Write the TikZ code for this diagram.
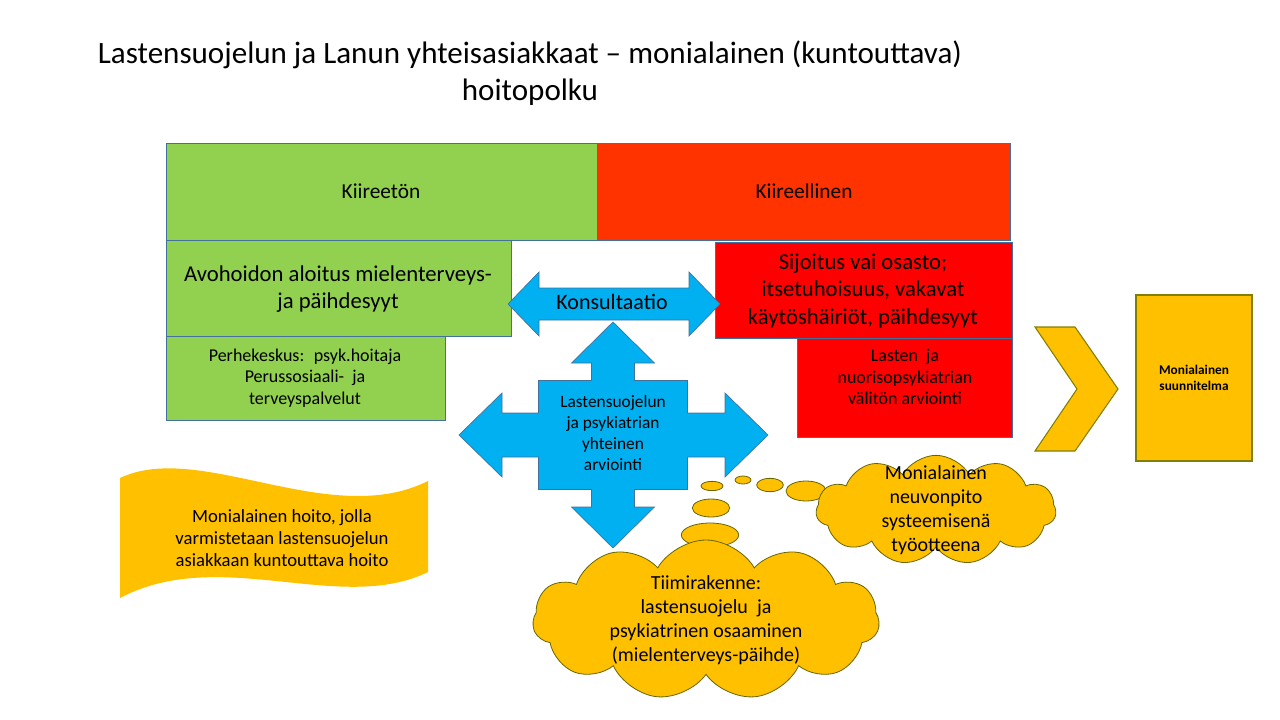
\documentclass[tikz,border=0pt]{standalone}
\usepackage{fontspec}
\setmainfont{Carlito}
\usetikzlibrary{shapes.symbols,shapes.geometric}
\definecolor{vihrea}{HTML}{92D050}
\definecolor{oranssi}{HTML}{FF3300}
\definecolor{puna}{HTML}{FF0000}
\definecolor{sini}{HTML}{00B0F0}
\definecolor{kulta}{HTML}{FFC000}
\definecolor{reuna}{HTML}{41719C}
\definecolor{oliivi}{HTML}{7F7F00}
\newcommand{\fs}[1]{\fontsize{#1pt}{\dimexpr#1pt*6/5\relax}\selectfont}
\tikzset{
  box/.style={draw=reuna, line width=0.6pt, align=center, inner sep=0pt},
  nuoli/.style={fill=sini, draw=reuna, line width=0.5pt},
  pilvi/.style={cloud, cloud puffs=11, cloud puff arc=120, aspect=2, fill=kulta, draw=oliivi!80!black, line width=0.6pt, inner sep=0pt},
  kupla/.style={ellipse, fill=kulta, draw=oliivi!80!black, line width=0.6pt, inner sep=0pt},
}
\begin{document}
\begin{tikzpicture}[x=0.75pt, y=-0.75pt]
  \useasboundingbox (0,0) rectangle (1280,720);
  % otsikko
  \node[align=center, font=\fs{23.3}] (otsikko) at (530,73) {Lastensuojelun ja Lanun yhteisasiakkaat -- monialainen (kuntouttava)\\hoitopolku};

  % ylarivi
  \path[box, fill=vihrea] (166,143) rectangle (597,240);
  \node[font=\fs{16}] (kiireeton) at (381,191) {Kiireetön};
  \path[box, fill=oranssi] (597,143) rectangle (1010,240);
  \node[font=\fs{16}] (kiireellinen) at (804,191) {Kiireellinen};

  % vasen puoli
  \path[box, fill=vihrea] (166,240) rectangle (511,336);
  \node[align=center, font=\fs{17}] (avohoito) at (338,289) {Avohoidon aloitus mielenterveys-\\ja päihdesyyt};
  \path[box, fill=vihrea] (166,336) rectangle (445,420);
  \node[align=center, font=\fs{13.5}] (perhekeskus) at (305,378) {Perhekeskus: \ psyk.hoitaja\\Perussosiaali- \ ja\\terveyspalvelut};

  % oikea puoli
  \path[box, fill=puna] (715,242) rectangle (1012,338);
  \node[align=center, font=\fs{17}] (sijoitus) at (863,291) {Sijoitus vai osasto;\\itsetuhoisuus, vakavat\\käytöshäiriöt, päihdesyyt};
  \path[box, fill=puna] (797,338) rectangle (1012,437);
  \node[align=center, font=\fs{13.5}] (arvio) at (905,377) {Lasten \ ja\\nuorisopsykiatrian\\välitön arviointi};

  % konsultaatio-nuoli
  \draw[nuoli] (508,304) -- (539,272) -- (539,288) -- (689,288) -- (689,272) -- (720,304)
    -- (689,336) -- (689,320) -- (539,320) -- (539,336) -- cycle;
  \node[font=\fs{16.5}] (konsultaatio) at (612,302) {Konsultaatio};

  % nelisuuntainen nuoli
  \begin{scope}[shift={(613,435)}]
    \draw[nuoli] (0,-113) -- (41.5,-72) -- (21.5,-72) -- (21.5,-54.5) -- (74.5,-54.5)
      -- (74.5,-22) -- (112,-22) -- (112,-42) -- (155,0) -- (112,42) -- (112,22)
      -- (74.5,22) -- (74.5,54.5)
      -- (21.5,54.5) -- (21.5,72) -- (41.5,72) -- (0,113) -- (-41.5,72) -- (-21.5,72)
      -- (-21.5,54.5) -- (-74.5,54.5) -- (-74.5,22) -- (-111,22) -- (-111,42) -- (-154,0)
      -- (-111,-42) -- (-111,-22) -- (-74.5,-22) -- (-74.5,-54.5) -- (-21.5,-54.5)
      -- (-21.5,-72) -- (-41.5,-72) -- cycle;
  \end{scope}
  \node[align=center, font=\fs{13}] (yhteinen) at (613,433) {Lastensuojelun\\ja psykiatrian\\yhteinen\\arviointi};

  % ajatuskuplat
  \node[kupla, minimum width=16.5pt, minimum height=7pt] (k1) at (712,486) {};
  \node[kupla, minimum width=12pt, minimum height=6pt] (k2) at (743,480) {};
  \node[kupla, minimum width=20pt, minimum height=10pt] (k3) at (770,485) {};
  \node[kupla, minimum width=30pt, minimum height=15pt] (k4) at (806,491) {};
  \node[kupla, minimum width=28pt, minimum height=13.5pt] (k5) at (711,508) {};
  \node[kupla, minimum width=43pt, minimum height=18pt] (k6) at (710,535) {};

  % pilvet
  \node[pilvi, minimum width=180pt, minimum height=82pt] (neuvonpito) at (936,510) {};
  \node[align=center, font=\fs{15}] at (neuvonpito) {Monialainen\\neuvonpito\\systeemisenä\\työotteena};
  \node[pilvi, minimum width=260pt, minimum height=120pt] (tiimi) at (706,620) {};
  \node[align=center, font=\fs{15}] at (tiimi) {Tiimirakenne:\\lastensuojelu \ ja\\psykiatrinen osaaminen\\(mielenterveys-päihde)};

  % aaltobanneri
  \draw[fill=kulta, draw=none] (120,478) .. controls (200,440) and (330,530) .. (428,481)
    -- (428,572) .. controls (340,615) and (220,545) .. (120,598) -- cycle;
  \node[align=center, font=\fs{14}] (hoito) at (282,538) {Monialainen hoito, jolla\\varmistetaan lastensuojelun\\asiakkaan kuntouttava hoito};

  % nuolikarki ja suunnitelma
  \draw[fill=kulta, draw=oliivi, line width=0.8pt] (1035,327) -- (1075,327) -- (1118,389)
    -- (1075,451) -- (1035,451) -- (1077,389) -- cycle;
  \path[box, fill=kulta, draw=oliivi, line width=0.8pt] (1136,295) rectangle (1252,461);
  \node[align=center, font=\fs{10}\bfseries] (suunnitelma) at (1194,378) {Monialainen\\suunnitelma};
\end{tikzpicture}
\end{document}
